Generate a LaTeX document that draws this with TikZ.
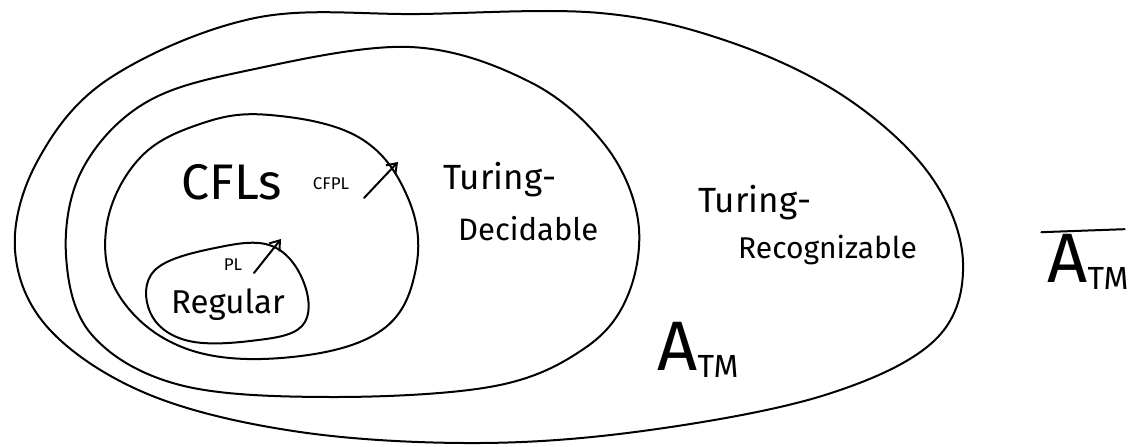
\documentclass[tikz,border=0pt]{standalone}
\usepackage{fontspec}
\setmainfont{Fira Sans}
\usetikzlibrary{arrows.meta}
\tikzset{
  stroke/.style={line width=2pt, line cap=round, line join=round},
  lbl/.style={inner sep=0pt, align=left},
  arr/.style={stroke, -{Straight Barb[length=9pt,width=13pt]}},
}
\begin{document}
\begin{tikzpicture}[x=1pt,y=-1pt]
\useasboundingbox (0,0) rectangle (1136,447);
% outer: Turing-recognizable
\draw[stroke] plot[smooth cycle, tension=0.6] coordinates {(255,18) (420,14) (600,13) (730,42) (845,97) (930,175) (963,262) (935,340) (825,395) (650,430) (480,443) (300,432) (150,395) (50,330) (15,250) (38,160) (110,78)};
% decidable
\draw[stroke] plot[smooth cycle, tension=0.6] coordinates {(250,70) (410,47) (530,82) (605,145) (638,220) (628,295) (585,348) (495,386) (330,397) (180,385) (92,335) (66,255) (82,170) (145,103)};
% CFLs
\draw[stroke] plot[smooth cycle, tension=0.65] coordinates {(270,115) (360,138) (408,198) (416,268) (382,330) (292,357) (190,350) (122,300) (106,230) (138,160) (200,124)};
% Regular
\draw[stroke] plot[smooth cycle, tension=0.65] coordinates {(215,248) (272,246) (304,283) (302,326) (250,341) (185,340) (150,312) (155,270)};
% labels
\node[lbl] (cfl) at (232,182) {\fontsize{50}{50}\selectfont CFLs};
\node[lbl] (cfpl) at (331,184) {\fontsize{17}{17}\selectfont CFPL};
\node[lbl] (pl) at (233,265) {\fontsize{17}{17}\selectfont PL};
\node[lbl] (reg) at (228,305) {\fontsize{33}{33}\selectfont Regular};
\node[lbl, anchor=west] (td1) at (443,180) {\fontsize{35}{35}\selectfont Turing-};
\node[lbl, anchor=west] (td2) at (458,229) {\fontsize{31}{31}\selectfont Decidable};
\node[lbl, anchor=west] (tr1) at (698,203) {\fontsize{35}{35}\selectfont Turing-};
\node[lbl, anchor=west] (tr2) at (738,250) {\fontsize{30}{30}\selectfont Recognizable};
\node[lbl] (atm) at (698,350) {\fontsize{70}{70}\selectfont A\raisebox{-0.1em}{\fontsize{32}{32}\selectfont TM}};
\node[lbl] (natm) at (1088,262) {\fontsize{70}{70}\selectfont A\raisebox{-0.1em}{\fontsize{32}{32}\selectfont TM}};
\draw[stroke] ([xshift=-6pt,yshift=2pt]natm.north west) coordinate (b1) -- ([xshift=-4pt,yshift=5pt]natm.north east) coordinate (b2);
% arrows
\coordinate (a1s) at (364,198);
\coordinate (a1e) at (398,162);
\draw[arr] (a1s) -- (a1e);
\coordinate (a2s) at (254,273);
\coordinate (a2e) at (281,239);
\draw[arr] (a2s) -- (a2e);
\end{tikzpicture}
\end{document}
